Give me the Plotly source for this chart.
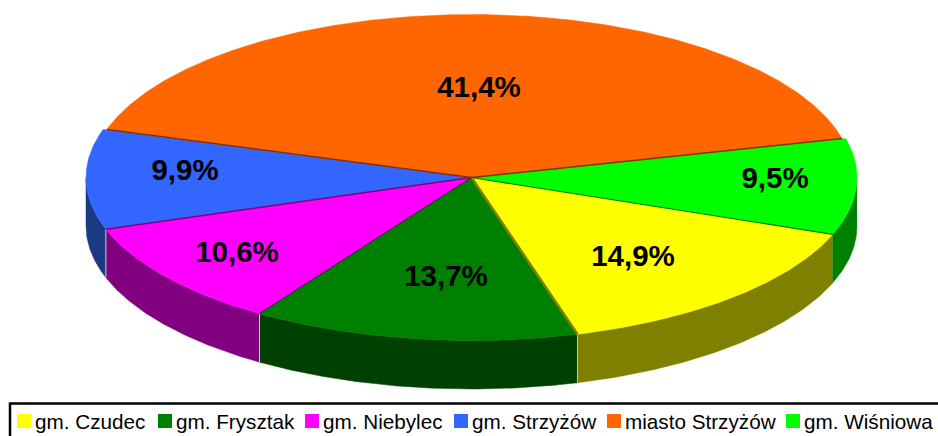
import numpy as np
import plotly.graph_objects as go

categories = ["gm. Czudec", "gm. Frysztak", "gm. Niebylec", "gm. Strzyżów", "miasto Strzyżów", "gm. Wiśniowa"]
values = [14.9, 13.7, 10.6, 9.9, 41.4, 9.5]
labels = ["14,9%", "13,7%", "10,6%", "9,9%", "41,4%", "9,5%"]
colors = ["#FFFF00", "#008000", "#FF00FF", "#3366FF", "#FF6600", "#00FF00"]
side_colors = ["#808000", "#004000", "#800080", "#1A3A84", "#803300", "#008000"]
edge_colors = ["#008000", "#808000", "#004000", "#800080", "#803300", "#803300"]

# pixel layout of the drawing
CX, CY, RX, RY, DEPTH = 471.5, 177.5, 385.5, 163.0, 48.5
RX_SCALE = [1, 1, 1, 1, 0.99, 1]
START = 20.4
LABEL_XY = [(633, 258.5), (446, 279), (237, 255), (185, 173), (479, 90), (775, 181)]
SWATCH_X = [17, 158, 305, 454, 607, 786]
TEXT_X = [35, 176, 323, 472, 625, 804]
LEGEND_Y = 421

total = sum(values)
edges = START + np.cumsum([0] + values) * 360.0 / total


def rim(a0, a1, dy=0.0, scale=1.0):
    t = np.radians(np.linspace(a0, a1, max(int(abs(a1 - a0) * 2), 2) + 1))
    return CX + RX * scale * np.cos(t), CY + RY * np.sin(t) + dy


fig = go.Figure()

# side walls: only the part of the rim that faces the viewer
for i, name in enumerate(categories):
    for shift in (0, -360):
        a0 = max(edges[i] + shift, 0)
        a1 = min(edges[i + 1] + shift, 180)
        if a1 <= a0:
            continue
        xt, yt = rim(a0, a1)
        xb, yb = rim(a1, a0, DEPTH)
        fig.add_trace(go.Scatter(
            x=np.r_[xt, xb], y=np.r_[yt, yb], mode="lines", fill="toself",
            fillcolor=side_colors[i], line=dict(color=side_colors[i], width=0.5),
            hoverinfo="skip", showlegend=False))
        # lit vertical seam where a wall starts
        if a0 > 0:
            fig.add_trace(go.Scatter(
                x=[xt[0], xt[0]], y=[yt[0], yt[0] + DEPTH], mode="lines",
                line=dict(color="#A0A040" if i == 0 else "#C8C8C8", width=1),
                hoverinfo="skip", showlegend=False))

# top faces
for i, name in enumerate(categories):
    xr, yr = rim(edges[i], edges[i + 1], scale=RX_SCALE[i])
    fig.add_trace(go.Scatter(
        x=np.r_[CX, xr, CX], y=np.r_[CY, yr, CY], mode="lines", fill="toself",
        fillcolor=colors[i], line=dict(color=colors[i], width=0.5),
        name=name, hoverinfo="name", showlegend=False))

# thin shaded radial edge of every slice
edge_widths = [1.2, 2.5, 1.0, 1.5, 1.5, 1.5]
for i in range(len(categories)):
    xr, yr = rim(edges[i], edges[i] + 0.1, scale=0.99 if i in (4, 5) else 1.0)
    fig.add_trace(go.Scatter(
        x=[CX, xr[0]], y=[CY, yr[0]], mode="lines",
        line=dict(color=edge_colors[i], width=edge_widths[i]),
        hoverinfo="skip", showlegend=False))

# percentage labels
fig.add_trace(go.Scatter(
    x=[p[0] for p in LABEL_XY], y=[p[1] for p in LABEL_XY], mode="text", text=labels,
    textposition="middle center",
    textfont=dict(family="Liberation Sans", size=29.5, color="#000000", weight="bold"),
    hoverinfo="skip", showlegend=False))

shapes = [dict(type="rect", xref="x", yref="y", x0=10, y0=403.5, x1=980, y1=470,
               line=dict(color="#000000", width=2.5), fillcolor="rgba(0,0,0,0)", layer="below")]
annotations = []
for i, name in enumerate(categories):
    shapes.append(dict(type="rect", xref="x", yref="y", x0=SWATCH_X[i], x1=SWATCH_X[i] + 14,
                       y0=LEGEND_Y - 7, y1=LEGEND_Y + 7, fillcolor=colors[i], line=dict(width=0)))
    annotations.append(dict(x=TEXT_X[i], y=LEGEND_Y, xref="x", yref="y", text=name, showarrow=False,
                            xanchor="left", yanchor="middle", borderpad=0, borderwidth=0,
                            font=dict(family="Liberation Sans", size=20.7, color="#000000")))

fig.update_layout(
    width=938, height=436, margin=dict(l=0, r=0, t=0, b=0),
    paper_bgcolor="#FFFFFF", plot_bgcolor="#FFFFFF", showlegend=False,
    xaxis=dict(range=[0, 938], visible=False, fixedrange=True),
    yaxis=dict(range=[436, 0], visible=False, fixedrange=True),
    shapes=shapes, annotations=annotations,
)
fig.write_html("out.html", config=dict(displayModeBar=False),
               post_script="document.body.style.margin='0';document.body.style.overflow='hidden';")
